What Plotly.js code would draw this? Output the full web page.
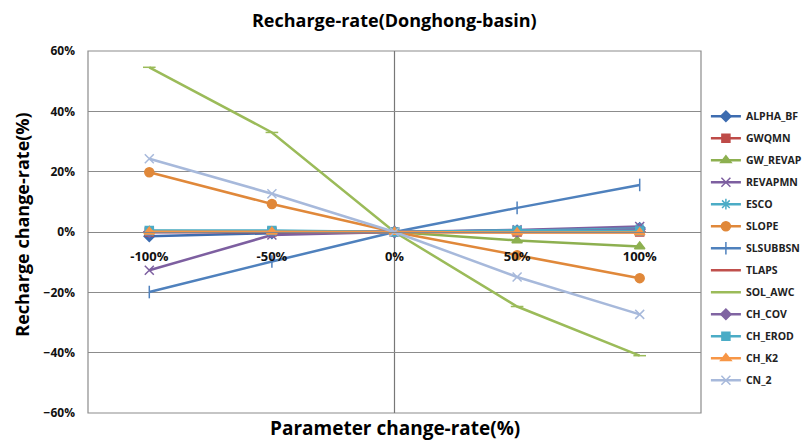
<!DOCTYPE html>
<html>
<head>
<meta charset="utf-8">
<script src="https://cdn.plot.ly/plotly-3.0.1.min.js"></script>
<style>html,body{margin:0;padding:0;background:#fff;}#chart{width:808px;height:440px;}</style>
</head>
<body>
<div id="chart"></div>
<script>
const categories = ['-100%', '-50%', '0%', '50%', '100%'];
const yTickVals = [-0.6, -0.4, -0.2, 0, 0.2, 0.4, 0.6];

const seriesNames = ['ALPHA_BF','GWQMN','GW_REVAP','REVAPMN','ESCO','SLOPE','SLSUBBSN','TLAPS','SOL_AWC','CH_COV','CH_EROD','CH_K2','CN_2'];

const ALPHA_BF = [-0.014, -0.004, 0, 0.005, 0.013];
const GWQMN    = [0, 0, 0, 0, 0];
const GW_REVAP = [0.003, 0.001, 0, -0.028, -0.048];
const REVAPMN  = [-0.127, -0.010, 0, 0.007, 0.018];
const ESCO     = [0.001, 0.001, 0, 0.004, 0.012];
const SLOPE    = [0.198, 0.093, 0, -0.077, -0.153];
const SLSUBBSN = [-0.199, -0.098, 0, 0.080, 0.156];
const TLAPS    = [0, 0, 0, 0, 0];
const SOL_AWC  = [0.546, 0.330, 0, -0.247, -0.410];
const CH_COV   = [0, 0, 0, 0.002, 0.008];
const CH_EROD  = [0.005, 0.005, 0, 0.005, 0.003];
const CH_K2    = [0.001, 0.001, 0, -0.002, -0.002];
const CN_2     = [0.243, 0.127, 0, -0.149, -0.273];

const seriesValues = [ALPHA_BF, GWQMN, GW_REVAP, REVAPMN, ESCO, SLOPE, SLSUBBSN, TLAPS, SOL_AWC, CH_COV, CH_EROD, CH_K2, CN_2];

const styles = [
  {color:'#3D6CB0', symbol:'diamond', size:8},
  {color:'#BE4B48', symbol:'square', size:8},
  {color:'#8DB050', symbol:'triangle-up', size:9},
  {color:'#7D5FA0', symbol:'x-thin', size:9},
  {color:'#4BACC6', symbol:'asterisk', size:9},
  {color:'#E0883A', symbol:'circle', size:9},
  {color:'#4F81BD', symbol:'line-ns', size:9},
  {color:'#C0504D', symbol:'line-ew', size:9},
  {color:'#9BBB59', symbol:'line-ew', size:9},
  {color:'#8064A2', symbol:'diamond', size:8},
  {color:'#4BACC6', symbol:'square', size:8},
  {color:'#F79646', symbol:'triangle-up', size:9},
  {color:'#A7B9DB', symbol:'x-thin', size:9}
];

const traces = seriesNames.map((name, i) => ({
  type: 'scatter',
  mode: 'lines+markers',
  name: name,
  legendgroup: name,
  x: categories,
  y: seriesValues[i],
  line: {color: styles[i].color, width: 2.5},
  marker: {color: styles[i].color, symbol: styles[i].symbol, size: styles[i].size,
           line: {color: styles[i].color, width: 1.5}}
}));

const FONT = '"Open Sans", "Noto Sans", sans-serif';

const layout = {
  width: 808, height: 440,
  margin: {l: 88, r: 107, t: 51, b: 27, autoexpand: false},
  paper_bgcolor: '#fff', plot_bgcolor: '#fff',
  font: {family: FONT, color: '#000'},
  title: {text: '<b>Recharge-rate(Donghong-basin)</b>', font: {family: FONT, size: 18, color: '#000', weight: 'bold'},
          x: 0.488, xanchor: 'center', y: 0.952, yanchor: 'middle'},
  showlegend: true,
  legend: {x: 1.008, xanchor: 'left', y: 0.86, yanchor: 'top', tracegroupgap: 3,
           font: {family: FONT, size: 10.5, color: '#222', weight: 'bold'}, bgcolor: 'rgba(0,0,0,0)'},
  xaxis: {
    type: 'category', range: [-0.5, 4.5], fixedrange: true,
    anchor: 'free', position: 0.5,
    showline: true, linecolor: '#888', linewidth: 1,
    showgrid: false, zeroline: false, ticks: '',
    ticklabelstandoff: 12,
    tickfont: {family: FONT, size: 13, color: '#111', weight: 'bold'}
  },
  yaxis: {
    range: [-0.6, 0.6], tickvals: yTickVals, tickformat: '.0%',
    showgrid: true, gridcolor: '#8c8c8c', gridwidth: 1,
    zeroline: false, showline: false, ticks: '',
    ticklabelstandoff: 12,
    tickfont: {family: FONT, size: 12, color: '#111', weight: 'bold'}
  },
  shapes: [
    {type: 'rect', xref: 'paper', yref: 'paper', x0: 0, x1: 1, y0: 0, y1: 1,
     line: {color: '#8c8c8c', width: 1.2}, layer: 'below'},
    {type: 'line', xref: 'x', yref: 'paper', x0: '0%', x1: '0%', y0: 0, y1: 1,
     line: {color: '#777', width: 1.2}, layer: 'below'}
  ],
  annotations: [
    {text: '<b>Parameter change-rate(%)</b>', xref: 'paper', yref: 'paper', x: 0.5, y: -0.042,
     xanchor: 'center', yanchor: 'middle', showarrow: false,
     font: {family: FONT, size: 19, color: '#000', weight: 'bold'}},
    {text: '<b>Recharge change-rate(%)</b>', xref: 'paper', yref: 'paper', x: -0.1077, y: 0.52,
     xanchor: 'center', yanchor: 'middle', textangle: -90, showarrow: false,
     font: {family: FONT, size: 18, color: '#000', weight: 'bold'}}
  ]
};

Plotly.newPlot('chart', traces, layout, {displayModeBar: false, staticPlot: true});
</script>
</body>
</html>
